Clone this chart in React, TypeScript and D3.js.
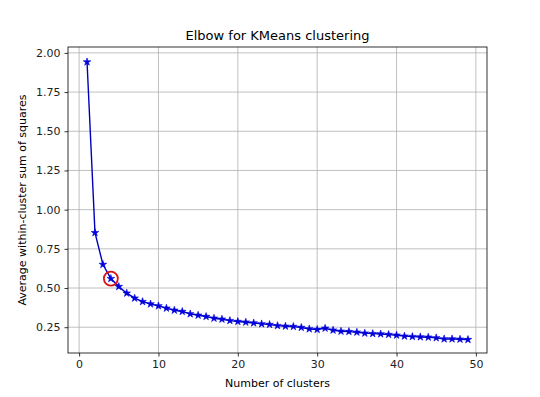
import * as d3 from "d3";
import { useEffect, useRef } from "react";

// number of clusters k = 1..49 and the average within-cluster sum of squares
const clusters = d3.range(1, 50);
const avgWithinSS = [
  1.942, 0.853, 0.65, 0.56, 0.509, 0.467, 0.435, 0.413, 0.398, 0.386,
  0.371, 0.358, 0.35, 0.335, 0.326, 0.318, 0.307, 0.301, 0.292, 0.286,
  0.282, 0.277, 0.271, 0.267, 0.26, 0.256, 0.254, 0.248, 0.239, 0.235,
  0.243, 0.231, 0.224, 0.222, 0.218, 0.212, 0.209, 0.207, 0.203, 0.199,
  0.193, 0.19, 0.188, 0.186, 0.182, 0.175, 0.175, 0.173, 0.171,
];
const elbowK = 4;
const xTicks = [0, 10, 20, 30, 40, 50];
const yTicks = [0.25, 0.5, 0.75, 1.0, 1.25, 1.5, 1.75, 2.0];

const W = 540;
const H = 397;
const box = { x1: 68, y1: 47, x2: 487, y2: 353 };

const draw = (el: SVGSVGElement) => {
  const svg = d3.select(el);
  svg.selectAll("*").remove();

  const x = d3.scaleLinear().domain([-1.4, 51.4]).range([box.x1, box.x2]);
  const y = d3.scaleLinear().domain([0.0855, 2.0375]).range([box.y2, box.y1]);
  const font = "DejaVu Sans, sans-serif";

  // grid
  const grid = svg.append("g").attr("stroke", "#b0b0b0").attr("stroke-width", 0.8);
  xTicks.forEach((t) => {
    grid.append("line").attr("x1", x(t)).attr("x2", x(t)).attr("y1", box.y1).attr("y2", box.y2);
  });
  yTicks.forEach((t) => {
    grid.append("line").attr("y1", y(t)).attr("y2", y(t)).attr("x1", box.x1).attr("x2", box.x2);
  });

  // axes
  const xAxis = svg.append("g")
    .attr("transform", `translate(0,${box.y2})`)
    .call(d3.axisBottom(x).tickValues(xTicks).tickFormat(d3.format("d")).tickSize(3.5).tickPadding(4));
  const yAxis = svg.append("g")
    .attr("transform", `translate(${box.x1},0)`)
    .call(d3.axisLeft(y).tickValues(yTicks).tickFormat(d3.format(".2f")).tickSize(3.5).tickPadding(4));
  [xAxis, yAxis].forEach((a) => {
    a.select(".domain").remove();
    a.selectAll("line").attr("stroke", "#000").attr("stroke-width", 0.8);
    a.selectAll("text").attr("font-family", font).attr("font-size", 11).attr("fill", "#222");
  });

  // data line + stars
  const pts = clusters.map((k, i) => [k, avgWithinSS[i]] as [number, number]);
  const line = d3.line<[number, number]>().x((d) => x(d[0])).y((d) => y(d[1]));
  svg.append("path").datum(pts).attr("d", line)
    .attr("fill", "none").attr("stroke", "#0000bb").attr("stroke-width", 1.4);
  const star = d3.symbol().type(d3.symbolStar).size(18);
  svg.append("g").selectAll("path").data(pts).join("path")
    .attr("d", star)
    .attr("transform", (d) => `translate(${x(d[0])},${y(d[1])})`)
    .attr("fill", "#0000dd").attr("stroke", "#0000dd").attr("stroke-width", 0.6);

  // elbow marker
  svg.append("circle")
    .attr("cx", x(elbowK)).attr("cy", y(avgWithinSS[elbowK - 1]))
    .attr("r", 7).attr("fill", "none").attr("stroke", "#dd1111").attr("stroke-width", 1.8);

  // frame
  svg.append("rect")
    .attr("x", box.x1).attr("y", box.y1)
    .attr("width", box.x2 - box.x1).attr("height", box.y2 - box.y1)
    .attr("fill", "none").attr("stroke", "#000").attr("stroke-width", 0.8);

  // labels
  svg.append("text").attr("x", (box.x1 + box.x2) / 2).attr("y", 40)
    .attr("text-anchor", "middle").attr("font-family", font).attr("font-size", 13)
    .text("Elbow for KMeans clustering");
  svg.append("text").attr("x", (box.x1 + box.x2) / 2).attr("y", 387)
    .attr("text-anchor", "middle").attr("font-family", font).attr("font-size", 11)
    .text("Number of clusters");
  svg.append("text")
    .attr("transform", `translate(26,${(box.y1 + box.y2) / 2}) rotate(-90)`)
    .attr("text-anchor", "middle").attr("font-family", font).attr("font-size", 11)
    .text("Average within-cluster sum of squares");
};

export default function App() {
  const ref = useRef<SVGSVGElement>(null);
  useEffect(() => {
    if (ref.current) draw(ref.current);
  }, []);
  return (
    <svg ref={ref} width={W} height={H}
      style={{ position: "absolute", left: 0, top: 0, background: "#fff" }} />
  );
}
